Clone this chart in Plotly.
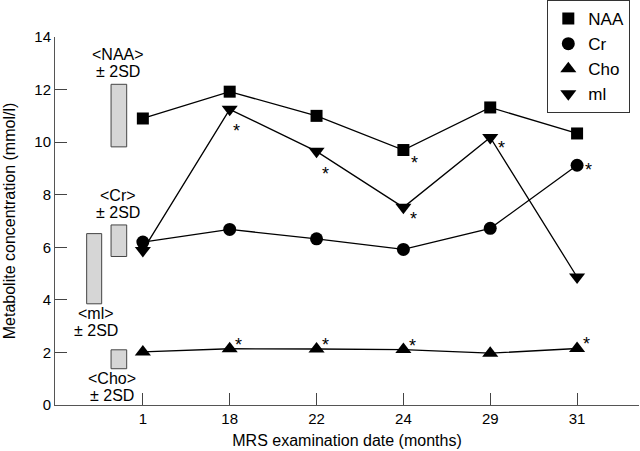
import plotly.graph_objects as go

# ---- data ----
months = ["1", "18", "22", "24", "29", "31"]
naa = [10.9, 11.92, 11.0, 9.7, 11.32, 10.33]
cr = [6.2, 6.68, 6.32, 5.92, 6.72, 9.12]
cho = [2.02, 2.14, 2.13, 2.11, 1.97, 2.15]
mi = [5.88, 11.25, 9.65, 7.52, 10.18, 4.87]

naa_sig = [0, 0, 0, 1, 0, 0]
cr_sig = [0, 0, 0, 0, 0, 1]
cho_sig = [0, 1, 1, 1, 0, 1]
mi_sig = [0, 1, 1, 1, 1, 0]

ref_names = ["NAA", "Cr", "mI", "Cho"]
ref_low = [9.82, 5.65, 3.85, 1.38]
ref_high = [12.2, 6.85, 6.52, 2.1]

FONT = "Liberation Sans, Arial, Helvetica, sans-serif"
xs = list(range(len(months)))

fig = go.Figure()

series = [
    ("NAA", naa, "square", 12),
    ("Cr", cr, "circle", 13),
    ("Cho", cho, "triangle-up", 14),
    ("ml", mi, "triangle-down", 14),
]

for name, vals, sym, sz in series:
    fig.add_trace(go.Scatter(x=xs, y=vals, mode="lines",
                             line=dict(color="black", width=1.3),
                             showlegend=False, hoverinfo="skip"))
for name, vals, sym, sz in series:
    fig.add_trace(go.Scatter(x=xs, y=vals, mode="markers", name=name,
                             marker=dict(symbol=sym, size=sz, color="black",
                                         line=dict(width=0))))

# significance asterisks (screen offsets: dx right, dy down)
star_specs = [
    (naa, naa_sig, {3: (11, 8)}),
    (cr, cr_sig, {5: (11, 0)}),
    (cho, cho_sig, {1: (9, -9), 2: (9, -9), 3: (9, -9), 5: (9, -9)}),
    (mi, mi_sig, {1: (7, 17), 2: (9, 18), 3: (10, 7), 4: (11, 6)}),
]
for vals, sig, offs in star_specs:
    for i, s in enumerate(sig):
        if s:
            dx, dy = offs.get(i, (10, 0))
            fig.add_annotation(x=xs[i], y=vals[i], text="*", showarrow=False,
                               xshift=dx, yshift=-(dy + 5),
                               font=dict(family=FONT, size=18, color="black"))

# reference range boxes
box_x = {"NAA": (-0.366, -0.186), "Cr": (-0.366, -0.186),
         "mI": (-0.647, -0.474), "Cho": (-0.366, -0.186)}
for nm, lo, hi in zip(ref_names, ref_low, ref_high):
    x0, x1 = box_x[nm]
    fig.add_shape(type="rect", xref="x", yref="y", x0=x0, x1=x1, y0=lo, y1=hi,
                  fillcolor="#d6d6d6", line=dict(color="#444444", width=1))

# reference labels
lab_pos = {"NAA": (-0.29, 13.34, 12.70), "Cr": (-0.29, 7.97, 7.33),
           "mI": (-0.54, 3.49, 2.85), "Cho": (-0.36, 0.99, 0.35)}
for nm in ref_names:
    x, y1, y2 = lab_pos[nm]
    disp = "ml" if nm == "mI" else nm
    fig.add_annotation(x=x, y=y1, text="&lt;" + disp + "&gt;", showarrow=False,
                       font=dict(family=FONT, size=16, color="black"))
    fig.add_annotation(x=x, y=y2, text="± 2SD", showarrow=False,
                       font=dict(family=FONT, size=16, color="black"))

fig.update_layout(
    template="none",
    width=640, height=451,
    margin=dict(l=55, r=1, t=36, b=46),
    paper_bgcolor="white", plot_bgcolor="white",
    font=dict(family=FONT, size=15, color="black"),
    showlegend=True,
    legend=dict(x=0.843, y=1.098, xanchor="left", yanchor="top",
                bgcolor="white", bordercolor="#333333", borderwidth=1,
                font=dict(family=FONT, size=17, color="black"),
                traceorder="normal"),
    xaxis=dict(range=[-1.0115, 5.713], tickvals=xs, ticktext=months,
               ticks="inside", ticklen=12, tickcolor="#444444",
               showline=True, linecolor="#555555", linewidth=1,
               showgrid=False, zeroline=False, automargin=False,
               tickfont=dict(size=15),
               title=dict(text="MRS examination date (months)",
                          font=dict(size=16), standoff=8)),
    yaxis=dict(range=[0, 14], tickvals=[0, 2, 4, 6, 8, 10, 12, 14],
               ticks="inside", ticklen=12, tickcolor="#444444",
               showline=True, linecolor="#555555", linewidth=1,
               showgrid=False, zeroline=False, automargin=False,
               tickfont=dict(size=15),
               title=dict(text="Metabolite concentration (mmol/l)",
                          font=dict(size=16), standoff=14)),
)

fig.write_html("out.html",
               config={"displayModeBar": False},
               post_script="document.body.style.margin='0';"
                           "document.body.style.overflow='hidden';")
